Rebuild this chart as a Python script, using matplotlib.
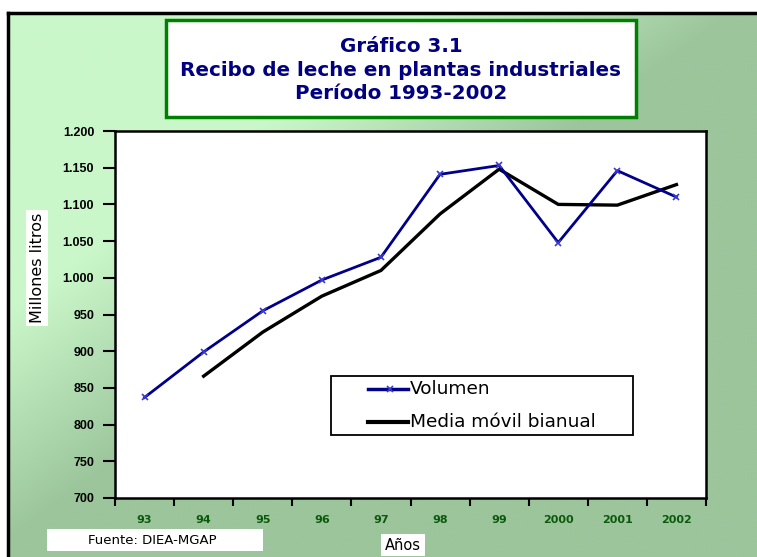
import numpy as np
import matplotlib
matplotlib.use("Agg")
import matplotlib.pyplot as plt
from matplotlib.patches import Rectangle
from matplotlib.colors import LinearSegmentedColormap

# ── datos ────────────────────────────────────────────────────────────────
anios = ["93", "94", "95", "96", "97", "98", "99", "2000", "2001", "2002"]
volumen = [837, 899, 955, 997, 1028, 1141, 1153, 1048, 1146, 1110]
media_movil = [np.nan, 866, 926, 975, 1010, 1087, 1148, 1100, 1099, 1127]
y_ticks = [700, 750, 800, 850, 900, 950, 1000, 1050, 1100, 1150, 1200]
series = ["Volumen", "Media móvil bianual"]

W, H = 757, 557
fig = plt.figure(figsize=(W / 100, H / 100), dpi=100)
fig.patch.set_facecolor("white")

# ── fondo degradado verde ───────────────────────────────────────────────
bg = fig.add_axes([0, 0, 1, 1], zorder=0)
bg.set_axis_off()
xx, yy = np.meshgrid(np.linspace(0, 1, 300), np.linspace(0, 1, 220))
t = np.clip((xx + yy - 0.55) / 0.42, 0, 1)
cmap = LinearSegmentedColormap.from_list("verde", ["#CAF7CA", "#9CC59C"])
x0 = 8 / W
y1 = 1 - 13 / H
bg.imshow(t, cmap=cmap, extent=[x0, 1, 0, y1], origin="upper", aspect="auto")
bg.set_xlim(0, 1)
bg.set_ylim(0, 1)
bg.plot([x0, x0], [0, y1], color="black", lw=2.5, solid_capstyle="projecting")
bg.plot([x0, 1], [y1, y1], color="black", lw=2.5, solid_capstyle="projecting")

# ── cuadro de título ──────────────────────────────────────────────────────
bg.add_patch(Rectangle((166 / W, 1 - 117 / H), (636 - 166) / W, (117 - 20) / H,
                       facecolor="white", edgecolor="#008000", lw=2.5, zorder=3))
titulo = "Gráfico 3.1\nRecibo de leche en plantas industriales\nPeríodo 1993-2002"
bg.text(401 / W, 1 - 70 / H, titulo, ha="center", va="center", color="#000080",
        fontsize=14.3, fontweight="bold", linespacing=1.33, zorder=4)

# ── gráfico ───────────────────────────────────────────────────────────────
L, R, T, B = 115, 706, 131, 498
ax = fig.add_axes([L / W, 1 - B / H, (R - L) / W, (B - T) / H], zorder=2)
ax.set_facecolor("white")
x = np.arange(len(anios))

ax.plot(x, volumen, color="#00008B", lw=2, marker="x", markersize=4,
        markeredgecolor="#3A3AD0", markeredgewidth=1.2, zorder=3)
ax.plot(x, media_movil, color="black", lw=2.4, zorder=2)

ax.set_xlim(-0.5, len(anios) - 0.5)
ax.set_ylim(700, 1200)
ax.set_xticks(np.arange(-0.5, len(anios)), labels=[""] * (len(anios) + 1))
ax.set_xticks(x, labels=anios, minor=True)
ax.tick_params(axis="x", which="major", direction="out", length=6, width=1.5)
ax.tick_params(axis="x", which="minor", length=0, pad=12,
               labelsize=8, labelcolor="#0B5A0B")
for lb in ax.get_xticklabels(minor=True):
    lb.set_fontweight("bold")

ax.set_yticks(y_ticks)
ax.set_yticklabels([f"{v:,}".replace(",", ".") for v in y_ticks])
ax.tick_params(axis="y", direction="out", length=9, width=1.5, pad=6, labelsize=9)
for lb in ax.get_yticklabels():
    lb.set_fontweight("bold")
    lb.set_family("Liberation Sans")

for s in ax.spines.values():
    s.set_linewidth(1.8)
    s.set_color("black")

# ── leyenda (cuadro a mano, encima del gráfico) ──────────────────────────
top = fig.add_axes([0, 0, 1, 1], zorder=5)
top.set_axis_off()
top.set_xlim(0, 1)
top.set_ylim(0, 1)
top.patch.set_alpha(0)
top.add_patch(Rectangle((331 / W, 1 - 435 / H), 302 / W, 59 / H,
                        facecolor="white", edgecolor="black", lw=1.3))
ley_y = [389, 422]
top.plot([368 / W, 408 / W], [1 - ley_y[0] / H] * 2, color="#00008B", lw=2.5)
top.plot([390 / W], [1 - ley_y[0] / H], marker="x", markersize=4,
         markeredgecolor="#3A3AD0", markeredgewidth=1.2)
top.plot([368 / W, 408 / W], [1 - ley_y[1] / H] * 2, color="black", lw=3)
for lab, yy_ in zip(series, ley_y):
    top.text(410 / W, 1 - yy_ / H, lab, ha="left", va="center", fontsize=13.3)

# etiquetas de ejes y fuente
bg.text(37 / W, 1 - 268 / H, "Millones litros", rotation=90, ha="center", va="center",
        fontsize=11.5, zorder=4,
        bbox=dict(boxstyle="square,pad=0.2", facecolor="white", edgecolor="none"))
bg.text(403 / W, 1 - 545 / H, "Años", ha="center", va="center", fontsize=10.5, zorder=4,
        bbox=dict(boxstyle="square,pad=0.25", facecolor="white", edgecolor="none"))
bg.add_patch(Rectangle((47 / W, 1 - 551 / H), (263 - 47) / W, 22 / H,
                       facecolor="white", edgecolor="none", zorder=3))
bg.text(152 / W, 1 - 540 / H, "Fuente: DIEA-MGAP", ha="center", va="center",
        fontsize=9.5, zorder=4)

fig.savefig("out.png", dpi=100)
